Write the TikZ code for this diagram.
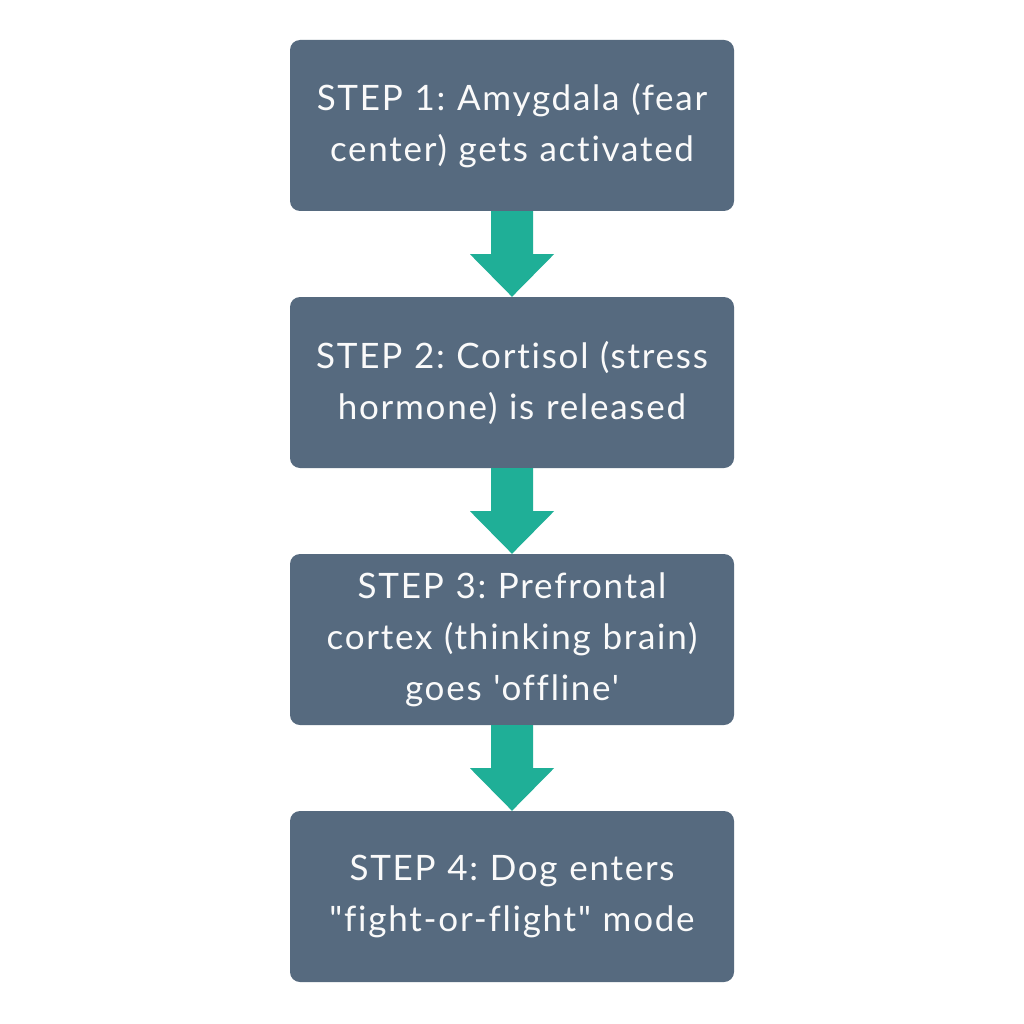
\documentclass[tikz,border=0pt]{standalone}
\usepackage{fontspec}
\setmainfont{Lato}[Ligatures={TeXOff,NoCommon}, LetterSpace=5]
\usetikzlibrary{calc}
\definecolor{boxc}{HTML}{566A7F}
\definecolor{arrc}{HTML}{1FAF97}
\definecolor{txtc}{HTML}{FAFAFA}
\tikzset{
  stepbox/.style={fill=boxc, rounded corners=10pt, minimum width=444pt, minimum height=171pt,
    inner sep=0pt, text width=440pt, align=center, text=txtc,
    font=\fontsize{35}{51}\selectfont\frenchspacing},
  flowarrow/.style={fill=arrc}
}
\newcommand{\flowarr}[2]{%
  \fill[flowarrow] ($(#1.south)+(-21pt,0)$) -- ($(#1.south)+(21pt,0)$) -- ($(#1.south)+(21pt,-43pt)$)
   -- ($(#1.south)+(42pt,-43pt)$) -- (#2.north) -- ($(#1.south)+(-42pt,-43pt)$) -- ($(#1.south)+(-21pt,-43pt)$) -- cycle;}
\begin{document}
\begin{tikzpicture}[x=1pt,y=-1pt]
\useasboundingbox[fill=white] (0,0) rectangle (1024,1024);
\node[stepbox] (s1) at (512,125.5) {STEP 1: Amygdala (fear\\center) gets activated};
\node[stepbox] (s2) at (512,382.5) {STEP 2: Cortisol (stress\\hormone) is released};
\node[stepbox] (s3) at (512,639.5) {STEP 3: Prefrontal\\cortex (thinking brain)\\goes 'offline'};
\node[stepbox] (s4) at (512,896.5) {STEP 4: Dog enters\\"fight-or-flight" mode};
\flowarr{s1}{s2}
\flowarr{s2}{s3}
\flowarr{s3}{s4}
\end{tikzpicture}
\end{document}
